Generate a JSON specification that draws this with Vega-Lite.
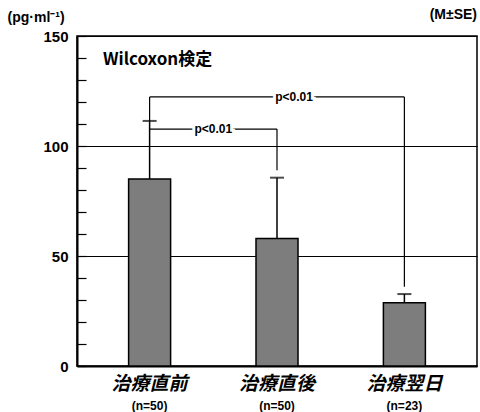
{
  "$schema": "https://vega.github.io/schema/vega-lite/v6.json",
  "width": 400,
  "height": 330,
  "autosize": "none",
  "padding": {"left": 77, "top": 36, "right": 3, "bottom": 46},
  "background": "white",
  "title": {"text": "(M±SE)", "anchor": "end", "orient": "top", "offset": -12, "fontSize": 14, "fontWeight": "bold", "font": "Liberation Sans", "color": "black", "frame": "group"},
  "config": {
    "view": {"stroke": "black", "strokeWidth": 1.5},
    "axis": {"labelColor": "black", "domainColor": "black", "tickColor": "black", "titleColor": "black"}
  },
  "datasets": {
    "bars": [
      {"cat": "治療直前", "n": "(n=50)", "mean": 85, "upper": 111.4},
      {"cat": "治療直後", "n": "(n=50)", "mean": 58, "upper": 85.6},
      {"cat": "治療翌日", "n": "(n=23)", "mean": 28.8, "upper": 32.7}
    ],
    "brackets": [
      {"from": "治療直前", "to": "治療翌日", "y": 122.3},
      {"from": "治療直前", "to": "治療直後", "y": 107.7}
    ],
    "legs": [
      {"cat": "治療直前", "top": 122.3, "bottom": 111.4},
      {"cat": "治療翌日", "top": 122.3, "bottom": 36},
      {"cat": "治療直後", "top": 107.7, "bottom": 89}
    ],
    "ptop": [{"cat": "治療直後", "y": 122.3, "label": "p<0.01"}],
    "pmid": [{"cat": "治療直前", "y": 107.7, "label": "p<0.01"}],
    "note": [{"cat": "治療直前", "y": 139, "label": "Wilcoxon検定"}]
  },
  "resolve": {"axis": {"x": "independent", "y": "independent"}},
  "layer": [
    {
      "data": {"name": "bars"},
      "mark": {"type": "bar", "width": 42, "fill": "#7d7d7d", "stroke": "black", "strokeWidth": 1.5},
      "encoding": {
        "x": {
          "field": "cat", "type": "nominal", "sort": ["治療直前", "治療直後", "治療翌日"],
          "scale": {"type": "band", "paddingInner": 0, "paddingOuter": 0.07},
          "axis": {"orient": "bottom", "title": null, "ticks": false, "domainWidth": 2, "labelAngle": 0, "labelFont": "Noto Sans CJK JP", "labelFontSize": 19, "labelFontWeight": "bold", "labelFontStyle": "italic", "labelPadding": 8, "labelBaseline": "top"}
        },
        "y": {
          "field": "mean", "type": "quantitative",
          "scale": {"domain": [0, 150], "nice": false},
          "axis": {"orient": "left", "values": [0, 50, 100, 150], "grid": true, "gridColor": "black", "gridWidth": 1.2, "gridOpacity": 1, "ticks": false, "domainWidth": 2, "labelFont": "Liberation Sans", "labelFontSize": 15, "labelFontWeight": "bold", "labelPadding": 9,
            "title": "(pg·ml⁻¹)", "titleAngle": 0, "titleAlign": "left", "titleBaseline": "middle", "titleX": -70, "titleY": -19, "titleFont": "Liberation Sans", "titleFontSize": 14, "titleFontWeight": "bold"}
        }
      }
    },
    {
      "data": {"name": "bars"},
      "mark": {"type": "rule", "color": "black", "strokeWidth": 1.5},
      "encoding": {
        "x": {
          "field": "cat", "type": "nominal", "sort": ["治療直前", "治療直後", "治療翌日"],
          "axis": {"orient": "bottom", "title": null, "ticks": false, "domain": false, "labelAngle": 0, "labelFont": "Liberation Sans", "labelFontSize": 12, "labelFontWeight": "bold", "labelPadding": 34, "labelBaseline": "top",
            "labelExpr": "datum.value == '治療翌日' ? '(n=23)' : '(n=50)'"}
        },
        "y": {
          "field": "mean", "type": "quantitative",
          "axis": {"orient": "left", "values": [0, 10, 20, 30, 40, 50, 60, 70, 80, 90, 100, 110, 120, 130, 140, 150], "labels": false, "tickSize": -9, "tickWidth": 1.2, "domain": false, "grid": false, "title": null}
        },
        "y2": {"field": "upper"}
      }
    },
    {
      "data": {"name": "bars"},
      "mark": {"type": "tick", "color": "black", "size": 14, "thickness": 2},
      "encoding": {
        "x": {"field": "cat", "type": "nominal", "sort": ["治療直前", "治療直後", "治療翌日"], "axis": null},
        "y": {"field": "upper", "type": "quantitative", "axis": null}
      }
    },
    {
      "data": {"name": "brackets"},
      "mark": {"type": "rule", "color": "black", "strokeWidth": 1.2},
      "encoding": {
        "x": {"field": "from", "type": "nominal", "bandPosition": 0.5, "axis": null},
        "x2": {"field": "to", "bandPosition": 0.5},
        "y": {"field": "y", "type": "quantitative", "axis": null}
      }
    },
    {
      "data": {"name": "legs"},
      "mark": {"type": "rule", "color": "black", "strokeWidth": 1.2},
      "encoding": {
        "x": {"field": "cat", "type": "nominal", "axis": null},
        "y": {"field": "top", "type": "quantitative", "axis": null},
        "y2": {"field": "bottom"}
      }
    },
    {
      "data": {"name": "ptop"},
      "mark": {"type": "text", "font": "Liberation Sans", "fontSize": 12, "fontWeight": "bold", "stroke": "white", "strokeWidth": 6, "fill": "white", "dx": 17},
      "encoding": {
        "x": {"field": "cat", "type": "nominal", "axis": null},
        "y": {"field": "y", "type": "quantitative", "axis": null},
        "text": {"field": "label"}
      }
    },
    {
      "data": {"name": "ptop"},
      "mark": {"type": "text", "font": "Liberation Sans", "fontSize": 12, "fontWeight": "bold", "color": "black", "dx": 17},
      "encoding": {
        "x": {"field": "cat", "type": "nominal", "axis": null},
        "y": {"field": "y", "type": "quantitative", "axis": null},
        "text": {"field": "label"}
      }
    },
    {
      "data": {"name": "pmid"},
      "mark": {"type": "text", "font": "Liberation Sans", "fontSize": 12, "fontWeight": "bold", "stroke": "white", "strokeWidth": 6, "fill": "white"},
      "encoding": {
        "x": {"field": "cat", "type": "nominal", "bandPosition": 1, "axis": null},
        "y": {"field": "y", "type": "quantitative", "axis": null},
        "text": {"field": "label"}
      }
    },
    {
      "data": {"name": "pmid"},
      "mark": {"type": "text", "font": "Liberation Sans", "fontSize": 12, "fontWeight": "bold", "color": "black"},
      "encoding": {
        "x": {"field": "cat", "type": "nominal", "bandPosition": 1, "axis": null},
        "y": {"field": "y", "type": "quantitative", "axis": null},
        "text": {"field": "label"}
      }
    },
    {
      "data": {"name": "note"},
      "mark": {"type": "text", "font": "Noto Sans CJK JP", "fontSize": 17, "fontWeight": "bold", "color": "black", "align": "left", "dx": 17},
      "encoding": {
        "x": {"field": "cat", "type": "nominal", "bandPosition": 0, "axis": null},
        "y": {"field": "y", "type": "quantitative", "axis": null},
        "text": {"field": "label"}
      }
    }
  ]
}
